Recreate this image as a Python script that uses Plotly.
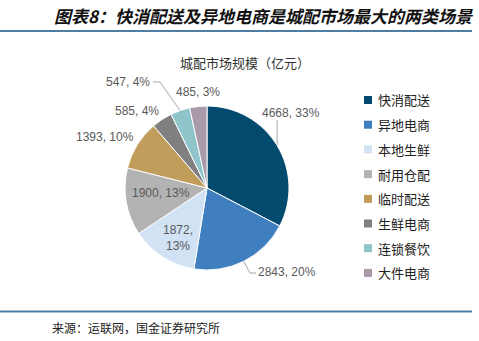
import math
import plotly.graph_objects as go

# City-distribution market size by scenario (100 million CNY)
categories = ["快消配送", "异地电商", "本地生鲜", "耐用仓配", "临时配送", "生鲜电商", "连锁餐饮", "大件电商"]
values = [4668, 2843, 1872, 1900, 1393, 585, 547, 485]
colors = ["#024b6f", "#3f7fbf", "#d0e2f3", "#b3b3b3", "#c09d5b", "#808080", "#8fc4ca", "#a89aa9"]

W, H = 479, 341
CX, CY, R = 207, 188, 82  # pie centre and radius in pixels


def px(x):
    return x / W


def py(y):
    return 1 - y / H


fig = go.Figure()
fig.add_trace(go.Pie(
    labels=categories,
    values=values,
    sort=False,
    direction="clockwise",
    rotation=0,
    textinfo="none",
    hoverinfo="label+value+percent",
    marker=dict(colors=colors, line=dict(color="white", width=1)),
    domain=dict(x=[px(CX - R), px(CX + R)], y=[py(CY + R), py(CY - R)]),
    showlegend=False,
))

total = sum(values)
pcts = [round(v / total * 100) for v in values]
labels = [f"{v}, {p}%" for v, p in zip(values, pcts)]
labels[2] = f"{values[2]},<br>{pcts[2]}%"

# mid-angle edge point of each slice (clockwise from 12 o'clock)
edge = []
cum = 0
for v in values:
    mid = (cum + v / 2) / total * 2 * math.pi
    edge.append((CX + R * math.sin(mid), CY - R * math.cos(mid)))
    cum += v

# label positions (pixels)
label_pos = [(291, 113), (287, 272), (178, 238), (161, 193), (105, 137), (137, 111), (128, 82), (198, 92)]
label_color = "#595959"
annotations = []
for t, (x, y) in zip(labels, label_pos):
    annotations.append(dict(
        x=px(x), y=py(y), xref="paper", yref="paper", text=t, showarrow=False,
        xanchor="center", yanchor="middle",
        font=dict(family="Liberation Sans, Arial", size=12, color=label_color),
    ))

shapes = []
line_style = dict(color="#a6a6a6", width=1)
# leader lines
ex, ey = edge[0]
shapes.append(dict(type="path", xref="paper", yref="paper",
                   path=f"M {px(ex)},{py(ey)} L {px(ex)},{py(120)}", line=line_style))
ex, ey = edge[1]
shapes.append(dict(type="path", xref="paper", yref="paper",
                   path=f"M {px(ex)},{py(ey)} L {px(250)},{py(273)} L {px(256)},{py(273)}", line=line_style))
ex, ey = edge[6]
shapes.append(dict(type="path", xref="paper", yref="paper",
                   path=f"M {px(ex)},{py(ey)} L {px(160)},{py(82)} L {px(153)},{py(82)}", line=line_style))

# header and footer rules
rule = dict(color="#4f7ea2", width=2)
shapes.append(dict(type="line", xref="paper", yref="paper", x0=0, x1=px(472), y0=py(31), y1=py(31), line=rule))
shapes.append(dict(type="line", xref="paper", yref="paper", x0=0, x1=px(472), y0=py(311.5), y1=py(311.5), line=rule))

# legend
for i, (name, c) in enumerate(zip(categories, colors)):
    yc = 100 + i * 24.7
    shapes.append(dict(type="rect", xref="paper", yref="paper",
                       x0=px(364), x1=px(372), y0=py(yc - 4), y1=py(yc + 4),
                       fillcolor=c, line=dict(width=0)))
    annotations.append(dict(
        x=px(376), y=py(yc), xref="paper", yref="paper", text=name, showarrow=False,
        xanchor="left", yanchor="middle",
        font=dict(family="Noto Sans CJK SC", size=13, color="#222222"),
    ))

cjk = "Noto Sans CJK SC"
annotations.append(dict(
    x=px(52), y=py(16), xref="paper", yref="paper",
    text="图表8：快消配送及异地电商是城配市场最大的两类场景", showarrow=False,
    xanchor="left", yanchor="middle",
    font=dict(family=cjk, size=17, color="#111111", weight="bold", style="italic"),
))
annotations.append(dict(
    x=px(245), y=py(62), xref="paper", yref="paper",
    text="城配市场规模（亿元）", showarrow=False, xanchor="center", yanchor="middle",
    font=dict(family=cjk, size=13, color="#333333"),
))
annotations.append(dict(
    x=px(50), y=py(327), xref="paper", yref="paper",
    text="来源：运联网，国金证券研究所", showarrow=False, xanchor="left", yanchor="middle",
    font=dict(family=cjk, size=12, color="#222222"),
))

fig.update_layout(
    width=W, height=H,
    margin=dict(l=0, r=0, t=0, b=0),
    paper_bgcolor="white", plot_bgcolor="white",
    annotations=annotations, shapes=shapes,
)

fig.write_html("out.html")
